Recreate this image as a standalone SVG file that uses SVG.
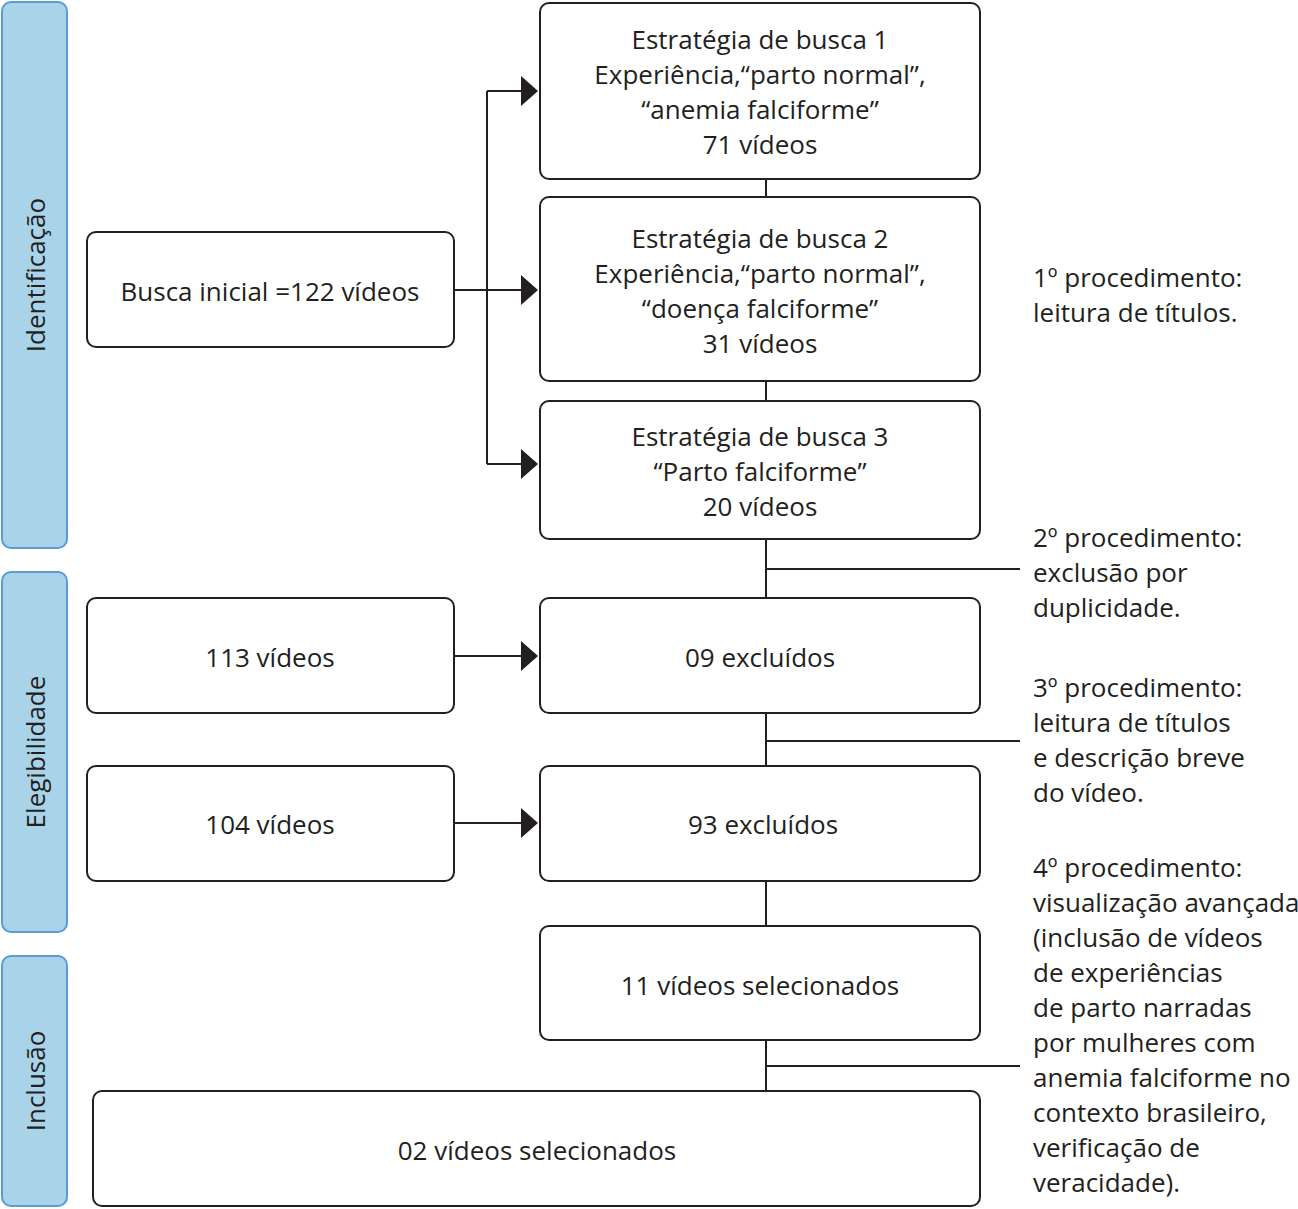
<svg xmlns="http://www.w3.org/2000/svg" width="1298" height="1209" viewBox="0 0 1298 1209">
<style>
text{font-family:"Open Sans","Noto Sans","Liberation Sans",sans-serif;font-size:26px;fill:#231f20}
.c{text-anchor:middle}
.box{fill:#fff;stroke:#231f20;stroke-width:2}
.phase{fill:#a9d3e8;stroke:#5b9bd5;stroke-width:2}
.ln{stroke:#231f20;stroke-width:2;fill:none}
.ah{fill:#231f20}
</style>
<rect width="1298" height="1209" fill="#fff"/>
<g id="phase-identificacao">
<rect class="phase" x="2" y="2" width="65" height="546" rx="9"/>
<text class="c" transform="translate(45 275) rotate(-90)">Identificação</text>
</g>
<g id="phase-elegibilidade">
<rect class="phase" x="2" y="572" width="65" height="360" rx="9"/>
<text class="c" transform="translate(45 752) rotate(-90)">Elegibilidade</text>
</g>
<g id="phase-inclusao">
<rect class="phase" x="2" y="956" width="65" height="250" rx="9"/>
<text class="c" transform="translate(45 1081) rotate(-90)">Inclusão</text>
</g>
<g id="connectors">
<path class="ln" d="M454 290H522M487 91V464M487 91H522M487 464H522"/>
<path class="ah" d="M521 76L538 91L521 106ZM521 275L538 290L521 305ZM521 449L538 464L521 479Z"/>
<path class="ln" d="M455 656H522M455 823H522"/>
<path class="ah" d="M521 641L538 656L521 671ZM521 808L538 823L521 838Z"/>
<path class="ln" d="M766 179V197M766 381V401M766 539V598M766 569H1020M766 713V766M766 741H1020M766 881V926M766 1040V1091M766 1066H1020"/>
</g>
<g id="n-busca">
<rect class="box" x="87" y="232" width="367" height="115" rx="9"/>
<text class="c" x="270" y="301">Busca inicial =122 vídeos</text>
</g>
<g id="n-estrategia1">
<rect class="box" x="540" y="3" width="440" height="176" rx="9"/>
<text class="c" x="760" y="49">Estratégia de busca 1</text>
<text class="c" x="760" y="84">Experiência,“parto normal”,</text>
<text class="c" x="760" y="119">“anemia falciforme”</text>
<text class="c" x="760" y="154">71 vídeos</text>
</g>
<g id="n-estrategia2">
<rect class="box" x="540" y="197" width="440" height="184" rx="9"/>
<text class="c" x="760" y="248">Estratégia de busca 2</text>
<text class="c" x="760" y="283">Experiência,“parto normal”,</text>
<text class="c" x="760" y="318">“doença falciforme”</text>
<text class="c" x="760" y="353">31 vídeos</text>
</g>
<g id="n-estrategia3">
<rect class="box" x="540" y="401" width="440" height="138" rx="9"/>
<text class="c" x="760" y="446">Estratégia de busca 3</text>
<text class="c" x="760" y="481">“Parto falciforme”</text>
<text class="c" x="760" y="516">20 vídeos</text>
</g>
<g id="n-113">
<rect class="box" x="87" y="598" width="367" height="115" rx="9"/>
<text class="c" x="270" y="667">113 vídeos</text>
</g>
<g id="n-09">
<rect class="box" x="540" y="598" width="440" height="115" rx="9"/>
<text class="c" x="760" y="667">09 excluídos</text>
</g>
<g id="n-104">
<rect class="box" x="87" y="766" width="367" height="115" rx="9"/>
<text class="c" x="270" y="834">104 vídeos</text>
</g>
<g id="n-93">
<rect class="box" x="540" y="766" width="440" height="115" rx="9"/>
<text class="c" x="763" y="834">93 excluídos</text>
</g>
<g id="n-11">
<rect class="box" x="540" y="926" width="440" height="114" rx="9"/>
<text class="c" x="760" y="995">11 vídeos selecionados</text>
</g>
<g id="n-02">
<rect class="box" x="93" y="1091" width="887" height="115" rx="9"/>
<text class="c" x="537" y="1160">02 vídeos selecionados</text>
</g>
<g id="note-1">
<text x="1033" y="287">1º procedimento:</text>
<text x="1033" y="322">leitura de títulos.</text>
</g>
<g id="note-2">
<text x="1033" y="547">2º procedimento:</text>
<text x="1033" y="582">exclusão por</text>
<text x="1033" y="617">duplicidade.</text>
</g>
<g id="note-3">
<text x="1033" y="697">3º procedimento:</text>
<text x="1033" y="732">leitura de títulos</text>
<text x="1033" y="767">e descrição breve</text>
<text x="1033" y="802">do vídeo.</text>
</g>
<g id="note-4">
<text x="1033" y="877">4º procedimento:</text>
<text x="1033" y="912">visualização avançada</text>
<text x="1033" y="947">(inclusão de vídeos</text>
<text x="1033" y="982">de experiências</text>
<text x="1033" y="1017">de parto narradas</text>
<text x="1033" y="1052">por mulheres com</text>
<text x="1033" y="1087">anemia falciforme no</text>
<text x="1033" y="1122">contexto brasileiro,</text>
<text x="1033" y="1157">verificação de</text>
<text x="1033" y="1192">veracidade).</text>
</g>
</svg>
